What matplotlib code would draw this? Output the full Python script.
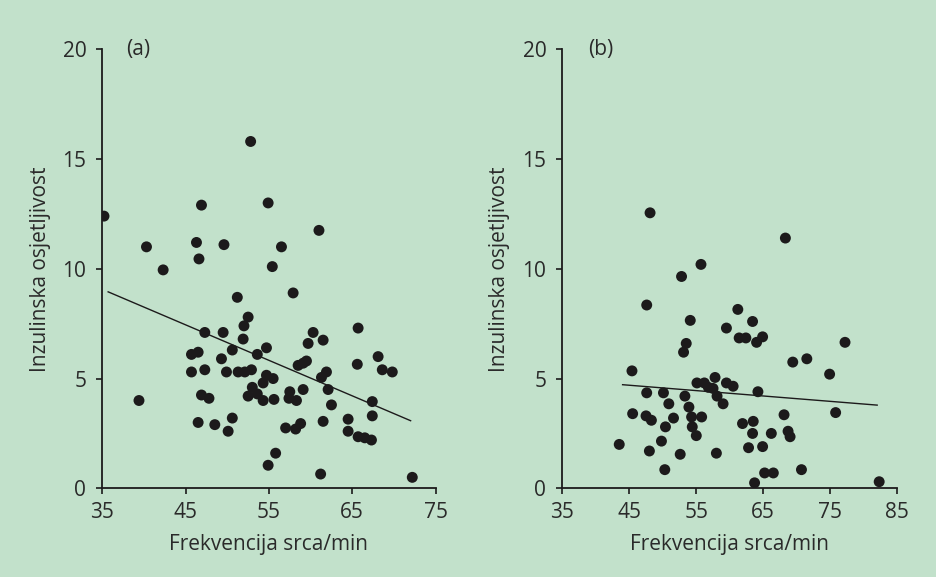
import matplotlib
matplotlib.use("Agg")
import matplotlib.pyplot as plt

plt.rcParams['font.family'] = ['Open Sans', 'DejaVu Sans']

bg = '#c2e1cb'
ink = '#2a2a2a'

# panel (a) - heart rate vs insulin sensitivity
a_x = [35.2, 40.3, 42.3, 39.4, 46.3, 46.9, 46.6, 49.6, 52.8, 54.9,
       55.4, 56.5, 61.0, 51.2, 57.9, 52.5, 52.0, 47.3, 49.5, 51.9,
       45.7, 46.5, 49.3, 50.6, 53.6, 54.7, 45.7, 47.3, 49.9, 51.3,
       52.1, 52.9, 54.7, 55.5, 54.3, 53.0, 53.6, 52.5, 54.3, 55.6,
       46.9, 47.8, 57.5, 57.4, 58.3, 59.1, 60.3, 59.7, 58.5, 59.1,
       59.5, 46.5, 48.5, 50.6, 50.1, 57.0, 58.2, 58.8, 55.8, 54.9,
       65.7, 61.5, 68.1, 65.6, 68.6, 69.8, 61.9, 61.3, 62.1, 62.5,
       67.4, 67.4, 64.5, 64.5, 61.5, 65.7, 66.5, 67.3, 61.2, 72.2]
a_y = [12.4, 11.0, 9.95, 4.0, 11.2, 12.9, 10.45, 11.1, 15.8, 13.0,
       10.1, 11.0, 11.75, 8.7, 8.9, 7.8, 7.4, 7.1, 7.1, 6.8,
       6.1, 6.2, 5.9, 6.3, 6.1, 6.4, 5.3, 5.4, 5.3, 5.3,
       5.3, 5.4, 5.15, 5.0, 4.8, 4.6, 4.3, 4.2, 4.0, 4.05,
       4.25, 4.1, 4.4, 4.1, 4.0, 4.5, 7.1, 6.6, 5.6, 5.7,
       5.8, 3.0, 2.9, 3.2, 2.6, 2.75, 2.7, 2.95, 1.6, 1.05,
       7.3, 6.75, 6.0, 5.65, 5.4, 5.3, 5.3, 5.05, 4.5, 3.8,
       3.95, 3.3, 3.15, 2.6, 3.05, 2.35, 2.3, 2.2, 0.65, 0.5]
a_fit_x = [35.7, 72.0]
a_fit_y = [8.95, 3.08]

# panel (b)
b_x = [48.1, 55.7, 52.8, 47.6, 54.1, 53.5, 53.1, 45.4, 55.1, 47.6,
       50.1, 53.3, 50.9, 53.9, 45.5, 47.5, 48.3, 51.6, 54.3, 55.8,
       50.4, 54.4, 55.0, 49.8, 43.5, 48.0, 52.6, 50.3, 61.2, 63.4,
       59.5, 61.4, 62.4, 64.9, 64.0, 69.4, 71.5, 56.2, 57.8, 56.8,
       57.5, 59.5, 60.5, 58.1, 59.0, 64.2, 61.9, 63.5, 63.4, 66.2,
       68.1, 68.7, 69.0, 58.0, 62.8, 64.9, 65.2, 66.5, 70.7, 63.7,
       68.3, 77.2, 74.9, 75.8, 82.3]
b_y = [12.55, 10.2, 9.65, 8.35, 7.65, 6.6, 6.2, 5.35, 4.8, 4.35,
       4.35, 4.2, 3.85, 3.7, 3.4, 3.3, 3.1, 3.2, 3.25, 3.25,
       2.8, 2.8, 2.4, 2.15, 2.0, 1.7, 1.55, 0.85, 8.15, 7.6,
       7.3, 6.85, 6.85, 6.9, 6.65, 5.75, 5.9, 4.8, 5.05, 4.6,
       4.55, 4.8, 4.65, 4.2, 3.85, 4.4, 2.95, 3.05, 2.5, 2.5,
       3.35, 2.6, 2.35, 1.6, 1.85, 1.9, 0.7, 0.7, 0.85, 0.25,
       11.4, 6.65, 5.2, 3.45, 0.3]
b_fit_x = [44.0, 82.0]
b_fit_y = [4.72, 3.79]

panels = [
    ('(a)', a_x, a_y, a_fit_x, a_fit_y, [35, 45, 55, 65, 75], [0.1092, 0.3557], 37.9),
    ('(b)', b_x, b_y, b_fit_x, b_fit_y, [35, 45, 55, 65, 75, 85], [0.6001, 0.3575], 38.8),
]

fig = plt.figure(figsize=(9.37, 5.77), dpi=100)
fig.patch.set_facecolor(bg)

for tag, xs, ys, fx, fy, xticks, (left, width), tag_x in panels:
    ax = fig.add_axes([left, 0.1537, width, 0.7609])
    ax.set_facecolor(bg)
    ax.scatter(xs, ys, s=62, color='#1c1a1b', edgecolors='none', zorder=3)
    ax.plot(fx, fy, color='#1c1a1b', lw=1.0, zorder=2)
    ax.set_xlim(xticks[0], xticks[-1])
    ax.set_ylim(0, 20)
    ax.set_xticks(xticks)
    ax.set_yticks([0, 5, 10, 15, 20])
    for s in ['top', 'right']:
        ax.spines[s].set_visible(False)
    for s in ['left', 'bottom']:
        ax.spines[s].set_linewidth(1.3)
        ax.spines[s].set_color('#1c1a1b')
        ax.spines[s].set_clip_on(False)
    ax.tick_params(direction='out', length=4.5, width=1.2, colors='#1c1a1b',
                   labelcolor=ink, labelsize=15)
    ax.tick_params(axis='x', pad=5)
    ax.tick_params(axis='y', pad=7)
    ax.set_xlabel('Frekvencija srca/min', fontsize=15, color=ink)
    ax.set_ylabel('Inzulinska osjetljivost', fontsize=15, color=ink)
    ax.xaxis.set_label_coords(0.5, -0.105)
    ax.yaxis.set_label_coords(-0.155, 0.5)
    ax.text(tag_x, 20, tag, fontsize=15, color=ink, ha='left', va='center')
    for sp in ax.spines.values():
        sp.set_zorder(4)

fig.savefig('out.png', dpi=100, facecolor=bg)
